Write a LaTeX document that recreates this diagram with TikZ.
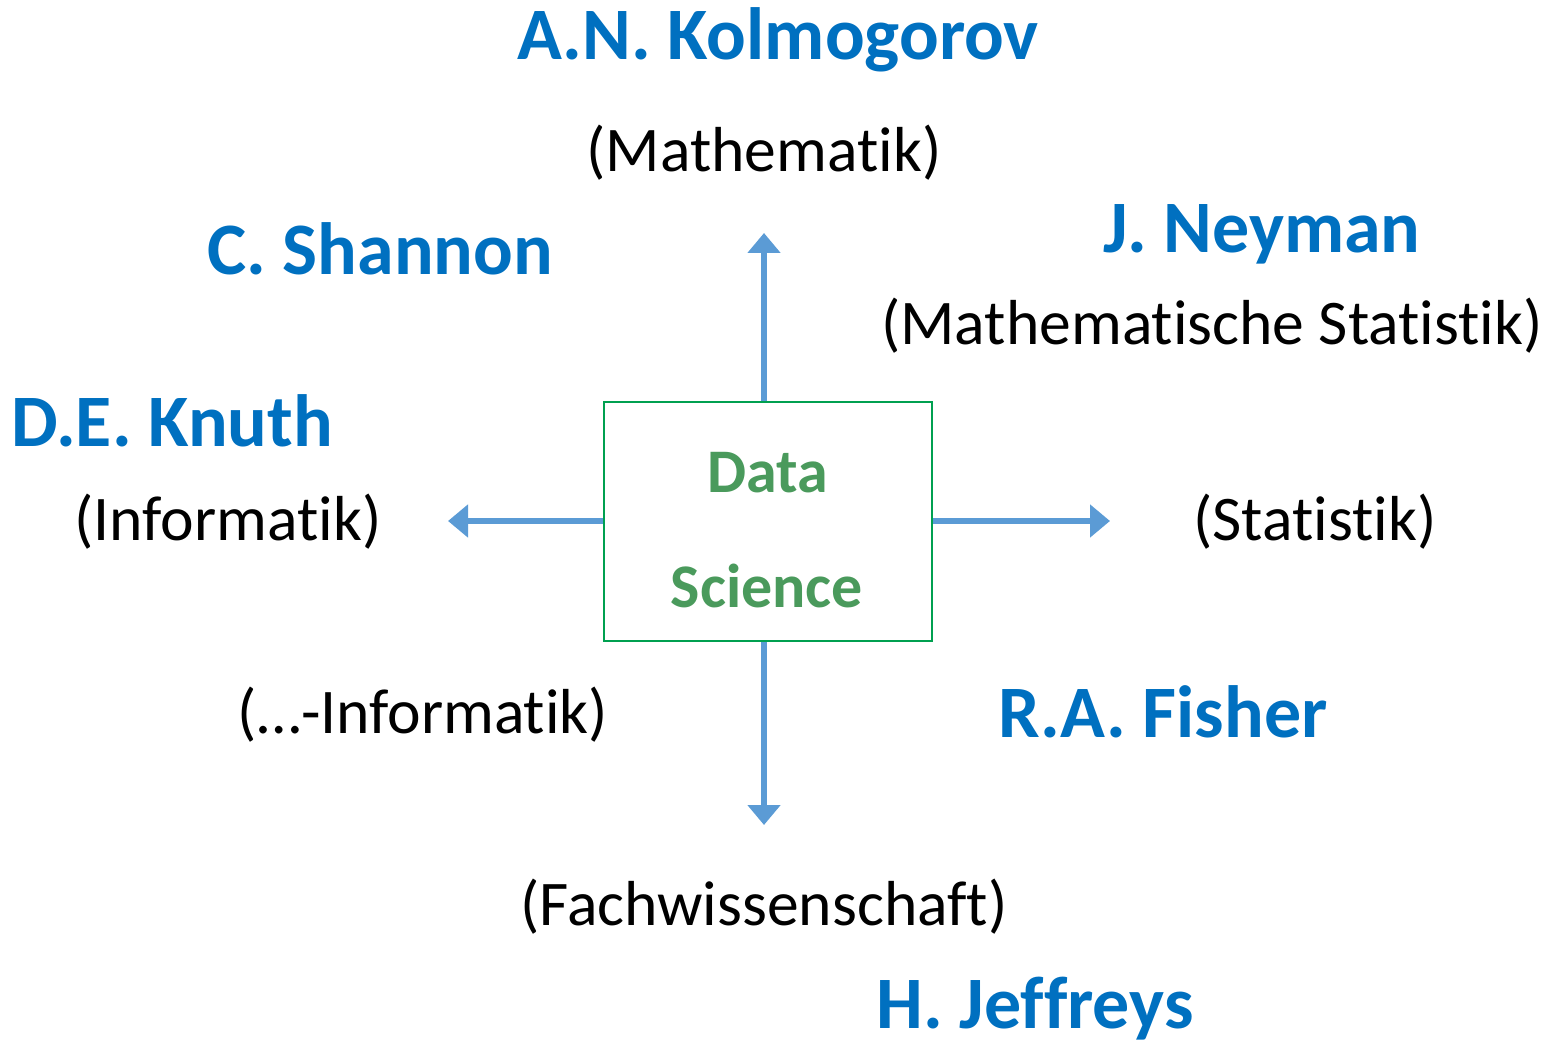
\documentclass[tikz,border=0pt]{standalone}
\usepackage{fontspec}
\setmainfont{Carlito}[Ligatures=NoCommon]
\usetikzlibrary{arrows.meta}
\definecolor{nameblue}{HTML}{0070C0}
\definecolor{arrowblue}{HTML}{5B9BD5}
\definecolor{boxgreen}{HTML}{00A050}
\definecolor{textgreen}{HTML}{4A9A5C}
\newcommand{\nl}{\kern0pt{}}
\begin{document}
\begin{tikzpicture}[x=0.5pt,y=-0.5pt,
  person/.style={anchor=base,inner sep=0pt,text=nameblue,font=\fontsize{37}{40}\selectfont\bfseries},
  field/.style={anchor=base,inner sep=0pt,text=black,font=\fontsize{31.8}{36}\selectfont},
  dstext/.style={anchor=base,inner sep=0pt,text=textgreen,font=\fontsize{31}{36}\selectfont\bfseries},
  conn/.style={draw=arrowblue,line width=2.6pt,-{Triangle[width=16pt,length=10pt]}}]
\useasboundingbox (0,0) rectangle (1557,1042);
% central box
\node[draw=boxgreen,line width=0.8pt,minimum width=164pt,minimum height=119.5pt,inner sep=0pt] (box) at (768,521.5) {};
\node[dstext] (data) at (768,493) {Data};
\node[dstext] (science) at (767,607) {Science};
% arrow end points
\coordinate (up) at (764,233);
\coordinate (down) at (764,825);
\coordinate (left) at (448,521);
\coordinate (right) at (1110,521);
\draw[conn] (box.north -| up) -- (up);
\draw[conn] (box.south -| down) -- (down);
\draw[conn] (box.west |- left) -- (left);
\draw[conn] (box.east |- right) -- (right);
% texts
\node[person] (kolmogorov) at (778,60) {A.N. Kolmogorov};
\node[field] (mathe) at (764,172) {(Mathemat\nl ik)};
\node[person] (shannon) at (380,275) {C. Shannon};
\node[person] (neyman) at (1262,253) {J. Neyman};
\node[field] (mathstat) at (1212,345) {(Mathemat\nl ische Stat\nl ist\nl ik)};
\node[person] (knuth) at (172,447) {D.E. Knuth};
\node[field] (info) at (228,540) {(Informat\nl ik)};
\node[field] (stat) at (1315,540) {(Stat\nl ist\nl ik)};
\node[field] (xinfo) at (423,733) {(…-Informat\nl ik)};
\node[person] (fisher) at (1163,737) {R.A. Fisher};
\node[field] (fach) at (764,925) {(Fachwissenschaf\nl t)};
\node[person] (jeffreys) at (1035,1028) {H. Jef\nl f\nl reys};
\end{tikzpicture}
\end{document}
